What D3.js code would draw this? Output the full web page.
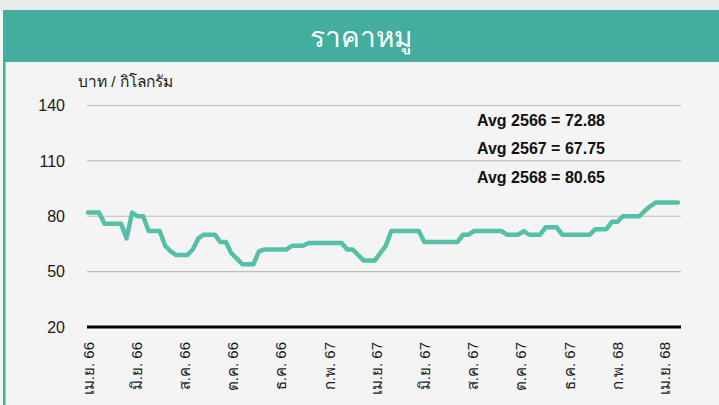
<!DOCTYPE html>
<html><head><meta charset="utf-8">
<script src="https://cdn.jsdelivr.net/npm/d3@7"></script>
<style>
html,body{margin:0;padding:0;background:#f2f2f2;}
svg{display:block;}
text{font-family:"Liberation Sans",Arial,"Noto Sans",sans-serif;}
</style></head>
<body>
<svg id="c" width="719" height="405"></svg>
<script>
// ---- data ----
const title = "ราคาหมู";
const unitLabel = "บาท / กิโลกรัม";
const startDate = "2023-03-31"; // first weekly observation
const weeklyPrice = [
  82,82,82, 76,76,76,76, 68, 82, 80,80, 72,72,72, 64, 61, 59,59,59, 62, 68,
  70,70,70, 66,66, 60, 57, 54,54,54, 61, 62,62,62,62,62, 64,64,64,
  65.5,65.5,65.5,65.5,65.5,65.5,65.5, 62,62, 59, 56,56,56, 60, 64,
  72,72,72,72,72,72, 66,66,66,66,66,66,66, 70,70, 72,72,72,72,72,72,
  70,70,70, 72, 70,70,70, 74,74,74, 70,70,70,70,70,70, 73,73,73, 77,77,
  80,80,80,80, 83, 85.5, 87.5,87.5,87.5,87.5,87.5
];
const tickDates = ["2023-04-01","2023-06-01","2023-08-01","2023-10-01","2023-12-01",
  "2024-02-01","2024-04-01","2024-06-01","2024-08-01","2024-10-01","2024-12-01",
  "2025-02-01","2025-04-01"];
const tickLabels = ["เม.ย. 66","มิ.ย. 66","ส.ค. 66","ต.ค. 66","ธ.ค. 66",
  "ก.พ. 67","เม.ย. 67","มิ.ย. 67","ส.ค. 67","ต.ค. 67","ธ.ค. 67",
  "ก.พ. 68","เม.ย. 68"];
const yTicks = [20,50,80,110,140];
const avgLabels = ["Avg 2566 = 72.88","Avg 2567 = 67.75","Avg 2568 = 80.65"];

// ---- build ----
const svg = d3.select("#c");
const parse = d3.utcParse("%Y-%m-%d");
const t0 = parse(startDate);
const points = weeklyPrice.map((v,i)=>({date:d3.utcDay.offset(t0,7*i), value:v}));

// background
svg.append("rect").attr("x",0).attr("y",0).attr("width",719).attr("height",405).attr("fill","#f3f3f3");
svg.append("rect").attr("x",0).attr("y",0).attr("width",719).attr("height",10).attr("fill","#ebebeb");
// panel
svg.append("rect").attr("x",3).attr("y",62).attr("width",716).attr("height",343).attr("fill","#f4f4f4");
svg.append("rect").attr("x",3).attr("y",10).attr("width",2.5).attr("height",395).attr("fill","#44ae9e");
// header
svg.append("rect").attr("x",3).attr("y",10).attr("width",716).attr("height",52).attr("fill","#44ae9e");
svg.append("text").attr("x",361).attr("y",37).attr("dy","0.35em").attr("text-anchor","middle")
  .attr("fill","#fff").attr("font-size",28).text(title);

const x = d3.scaleUtc().domain([points[0].date, points[points.length-1].date]).range([88,678]);
const y = d3.scaleLinear().domain([20,140]).range([327,105.5]);

// grid
const gridG = svg.append("g");
gridG.selectAll("line").data(yTicks.filter(d=>d!==20)).join("line")
  .attr("x1",87).attr("x2",681).attr("y1",d=>y(d)).attr("y2",d=>y(d))
  .attr("stroke","#bdbdbd").attr("stroke-width",1.2);

// y axis labels
const yAxis = d3.axisLeft(y).tickValues(yTicks).tickSize(0).tickPadding(0);
const yg = svg.append("g").attr("transform","translate(65,0)").call(yAxis);
yg.select(".domain").remove();
yg.selectAll("text").attr("font-size",16).attr("fill","#1a1a1a")
  .style("font-family",'"Liberation Sans",Arial,sans-serif');

// unit label
svg.append("text").attr("x",78).attr("y",87).attr("font-size",15.5).attr("fill","#1a1a1a").text(unitLabel);

// baseline
svg.append("line").attr("x1",87).attr("x2",681).attr("y1",y(20)).attr("y2",y(20))
  .attr("stroke","#000").attr("stroke-width",3);

// x axis labels
const xg = svg.append("g");
xg.selectAll("text").data(tickDates).join("text")
  .attr("transform",d=>`translate(${x(parse(d))},342) rotate(-90)`)
  .attr("text-anchor","end").attr("dy","0.35em")
  .attr("font-size",15).attr("fill","#1a1a1a")
  .text((d,i)=>tickLabels[i]);

// line
const line = d3.line().x(d=>x(d.date)).y(d=>y(d.value));
svg.append("path").datum(points).attr("d",line)
  .attr("fill","none").attr("stroke","#56bfa7").attr("stroke-width",4.5)
  .attr("stroke-linejoin","round").attr("stroke-linecap","round");

// averages
svg.append("g").selectAll("text").data(avgLabels).join("text")
  .attr("x",477).attr("y",(d,i)=>[120,148,177][i]).attr("dy","0.35em")
  .attr("font-size",16).attr("font-weight","bold").attr("fill","#111").text(d=>d);
</script>
</body></html>
